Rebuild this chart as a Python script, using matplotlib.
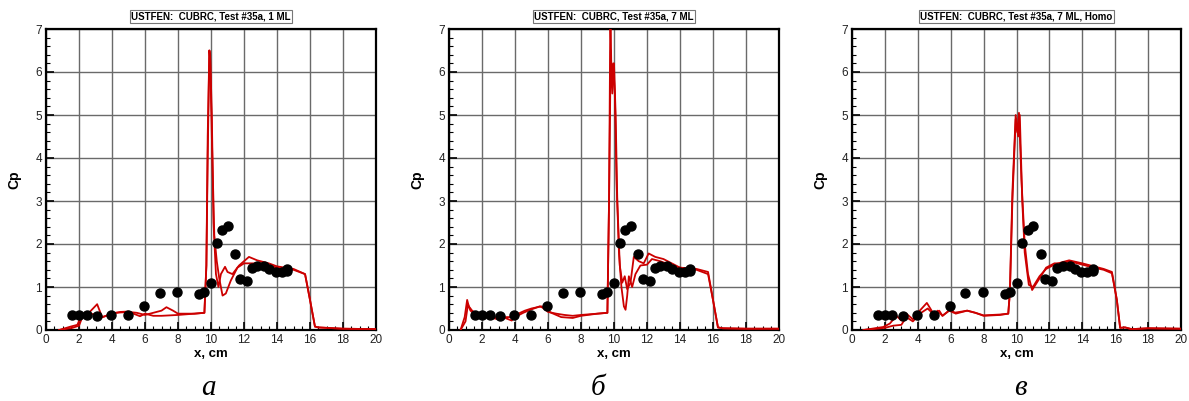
import matplotlib
matplotlib.use("Agg")
import matplotlib.pyplot as plt
from matplotlib.ticker import MultipleLocator

W, H = 1189, 401

# Experimental data (same in all panels)
exp_x = [1.56, 2.02, 2.46, 3.11, 3.94, 4.99, 5.96, 6.89, 7.96, 9.29, 9.60, 10.0,
         10.36, 10.67, 11.03, 11.47, 11.76, 12.16, 12.48, 12.81, 13.23, 13.54,
         13.94, 14.28, 14.63, 14.63]
exp_y = [0.36, 0.35, 0.36, 0.33, 0.35, 0.36, 0.55, 0.86, 0.88, 0.84, 0.88, 1.09,
         2.03, 2.33, 2.43, 1.76, 1.19, 1.14, 1.45, 1.48, 1.48, 1.41,
         1.34, 1.34, 1.38, 1.42]

# Panel a: 1 ML
a1_x = [0.8, 1.5, 1.9, 2.1, 2.3, 2.6, 3.1, 3.4, 3.8, 4.2, 5.0, 5.5, 6.0, 6.5, 7.0, 7.3,
        7.7, 8.0, 9.0, 9.6, 9.72, 9.8, 9.9, 9.95, 10.05, 10.15, 10.3, 10.45, 10.6, 10.85,
        11.0, 11.3, 11.7, 12.0, 12.3, 12.8, 13.5, 14.0, 14.5, 15.0, 15.7, 16.0, 16.3, 16.5,
        18.0, 20.0]
a1_y = [0.0, 0.08, 0.12, 0.3, 0.38, 0.4, 0.6, 0.3, 0.35, 0.4, 0.42, 0.4, 0.35, 0.4, 0.45, 0.53,
        0.45, 0.38, 0.38, 0.4, 1.5, 4.0, 6.5, 6.4, 5.0, 2.5, 1.3, 1.0, 1.3, 1.47,
        1.35, 1.3, 1.5, 1.6, 1.7, 1.62, 1.55, 1.48, 1.45, 1.42, 1.3, 0.7, 0.08, 0.06,
        0.03, 0.02]
a2_x = [0.8, 1.6, 2.0, 2.2, 2.4, 3.0, 3.3, 4.0, 4.5, 5.0, 5.3, 5.7, 6.0, 6.5, 7.0, 8.0,
        9.0, 9.6, 9.72, 9.8, 9.9, 9.95, 10.05, 10.2, 10.35, 10.5, 10.7, 10.9, 11.2, 11.6,
        12.0, 12.5, 13.0, 13.5, 14.0, 14.5, 15.0, 15.7, 16.0, 16.3, 16.5, 18.0, 20.0]
a2_y = [0.0, 0.05, 0.1, 0.3, 0.42, 0.35, 0.28, 0.38, 0.42, 0.43, 0.38, 0.32, 0.38, 0.33, 0.33, 0.35,
        0.38, 0.4, 1.5, 4.5, 6.5, 6.3, 4.5, 2.2, 1.6, 1.2, 0.8, 0.85, 1.15, 1.45,
        1.55, 1.55, 1.55, 1.5, 1.45, 1.42, 1.4, 1.3, 0.7, 0.08, 0.06, 0.03, 0.02]

# Panel b: 7 ML
b1_x = [0.7, 0.95, 1.1, 1.2, 1.4, 1.8, 2.2, 2.6, 3.0, 3.4, 3.8, 4.2, 4.6, 5.0, 5.6, 6.0,
        6.5, 7.0, 7.5, 8.0, 9.0, 9.6, 9.7, 9.78, 9.85, 9.95, 10.05, 10.15, 10.3, 10.45,
        10.6, 10.7, 10.8, 10.9, 11.1, 11.3, 11.6, 12.0, 12.3, 12.8, 13.5, 14.0, 15.0, 15.7,
        16.0, 16.3, 16.6, 18.0, 20.0]
b1_y = [0.0, 0.3, 0.7, 0.55, 0.45, 0.35, 0.3, 0.28, 0.25, 0.28, 0.22, 0.38, 0.45, 0.5, 0.55, 0.42,
        0.38, 0.35, 0.33, 0.35, 0.38, 0.4, 3.0, 7.5, 5.8, 6.2, 5.5, 3.5, 1.8, 1.0,
        0.55, 0.47, 0.8, 1.25, 1.0, 1.3, 1.5, 1.52, 1.65, 1.6, 1.5, 1.45, 1.4, 1.3,
        0.7, 0.06, 0.04, 0.03, 0.03]
b2_x = [0.7, 1.0, 1.15, 1.3, 1.6, 2.0, 2.5, 3.0, 3.5, 4.0, 4.5, 5.0, 5.5, 5.8, 6.2, 6.8,
        7.5, 8.0, 9.0, 9.6, 9.7, 9.8, 9.9, 10.0, 10.1, 10.2, 10.35, 10.5, 10.65, 10.8,
        11.0, 11.2, 11.5, 11.8, 12.1, 12.5, 13.0, 13.5, 14.0, 15.0, 15.7, 16.0, 16.3, 16.6,
        18.0, 20.0]
b2_y = [0.0, 0.2, 0.6, 0.45, 0.35, 0.3, 0.32, 0.28, 0.3, 0.3, 0.4, 0.48, 0.55, 0.5, 0.4, 0.3,
        0.28, 0.33, 0.38, 0.4, 3.0, 6.5, 5.5, 6.2, 5.0, 3.0, 1.5, 1.1, 1.25, 0.95,
        1.1, 1.7, 1.6, 1.55, 1.78, 1.7, 1.65, 1.55, 1.45, 1.42, 1.35, 0.7, 0.06, 0.04,
        0.03, 0.03]

# Panel c: 7 ML, Homo
c1_x = [0.7, 1.9, 2.3, 2.7, 3.0, 3.3, 3.7, 4.0, 4.55, 5.0, 5.3, 5.5, 6.0, 6.3, 6.7, 7.0,
        7.5, 8.0, 9.0, 9.5, 9.6, 9.75, 9.95, 10.05, 10.15, 10.3, 10.5, 10.7, 10.95, 11.4,
        11.8, 12.3, 12.8, 13.2, 14.0, 14.7, 15.3, 15.8, 16.1, 16.3, 16.6, 17.0, 18.0, 20.0]
c1_y = [0.0, 0.07, 0.15, 0.33, 0.22, 0.38, 0.25, 0.4, 0.63, 0.35, 0.45, 0.33, 0.48, 0.38, 0.42, 0.45,
        0.4, 0.33, 0.35, 0.38, 0.9, 3.0, 4.9, 4.6, 5.05, 3.5, 2.0, 1.3, 0.93, 1.2,
        1.45, 1.55, 1.55, 1.6, 1.52, 1.45, 1.4, 1.32, 0.7, 0.05, 0.06, 0.02, 0.04, 0.03]
c2_x = [0.7, 2.0, 2.5, 3.0, 3.3, 3.7, 4.2, 4.6, 5.0, 5.2, 5.5, 5.9, 6.2, 6.7, 7.0, 7.5,
        8.0, 9.0, 9.5, 9.6, 9.75, 9.95, 10.1, 10.2, 10.35, 10.5, 10.75, 11.0, 11.4, 11.8,
        12.3, 12.8, 13.2, 14.0, 14.7, 15.3, 15.8, 16.1, 16.3, 16.6, 17.0, 18.0, 20.0]
c2_y = [0.0, 0.05, 0.1, 0.12, 0.3, 0.2, 0.4, 0.5, 0.35, 0.45, 0.33, 0.45, 0.4, 0.43, 0.45, 0.4,
        0.34, 0.36, 0.38, 0.9, 3.2, 5.0, 4.5, 5.0, 3.0, 1.8, 1.05, 1.0, 1.25, 1.42,
        1.52, 1.58, 1.62, 1.55, 1.48, 1.42, 1.35, 0.7, 0.05, 0.06, 0.02, 0.04, 0.03]

titles = ["USTFEN:  CUBRC, Test #35a, 1 ML",
          "USTFEN:  CUBRC, Test #35a, 7 ML",
          "USTFEN:  CUBRC, Test #35a, 7 ML, Homo"]
letters = ["а", "б", "в"]
series = [[(a1_x, a1_y), (a2_x, a2_y)],
          [(b1_x, b1_y), (b2_x, b2_y)],
          [(c1_x, c1_y), (c2_x, c2_y)]]

plt.rcParams['font.family'] = ['Liberation Sans', 'DejaVu Sans']

fig = plt.figure(figsize=(W / 100, H / 100), dpi=100)

lefts = [46, 449, 852]
widths = [330, 330, 329]
top, bottom = 29, 330
letter_x = [208, 598, 1020]

for i in range(3):
    ax = fig.add_axes([lefts[i] / W, 1 - bottom / H, widths[i] / W, (bottom - top) / H])
    ax.set_xlim(0, 20)
    ax.set_ylim(0, 7)
    ax.xaxis.set_major_locator(MultipleLocator(2))
    ax.xaxis.set_minor_locator(MultipleLocator(0.5))
    ax.yaxis.set_major_locator(MultipleLocator(1))
    ax.yaxis.set_minor_locator(MultipleLocator(0.2))
    ax.grid(True, which='major', color='#6a6a6a', lw=1.0)
    ax.set_axisbelow(True)
    ax.tick_params(which='major', direction='in', length=6, width=1.2, labelsize=8.5,
                   pad=3, top=False, right=False, colors='black', labelcolor='#222222')
    ax.tick_params(which='minor', direction='in', length=3, width=0.8, top=False, right=False)
    for sp in ax.spines.values():
        sp.set_linewidth(1.6)
    for (sx, sy) in series[i]:
        ax.plot(sx, sy, color='#cc0000', lw=1.3, zorder=3)
    ax.plot(exp_x, exp_y, 'o', color='black', ms=6.5, zorder=4, clip_on=False)
    ax.set_xlabel("x, cm", fontsize=9.5, fontweight='bold', labelpad=1)
    ax.set_ylabel("Cp", fontsize=10, fontweight='bold', labelpad=10)
    cx = (lefts[i] + widths[i] / 2) / W
    fig.text(cx, 1 - 16.5 / H, titles[i], ha='center', va='center', fontsize=7,
             fontweight='bold',
             bbox=dict(boxstyle='square,pad=0.15', fc='white', ec='#777777', lw=0.8))
    fig.text(letter_x[i] / W, 1 - 388 / H, letters[i], ha='center', va='center',
             fontsize=21, style='italic', family=['Liberation Serif', 'DejaVu Serif'])

fig.savefig("out.png", dpi=100)
